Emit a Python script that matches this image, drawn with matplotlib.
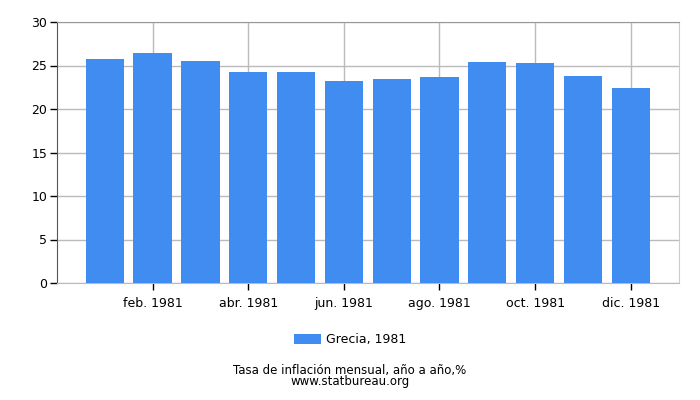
import matplotlib
matplotlib.use("Agg")
import matplotlib.pyplot as plt

months = ["ene. 1981", "feb. 1981", "mar. 1981", "abr. 1981", "may. 1981", "jun. 1981",
          "jul. 1981", "ago. 1981", "sep. 1981", "oct. 1981", "nov. 1981", "dic. 1981"]
values = [25.7, 26.4, 25.5, 24.3, 24.3, 23.2, 23.5, 23.7, 25.4, 25.3, 23.8, 22.4]
series_label = "Grecia, 1981"
yticks = [0, 5, 10, 15, 20, 25, 30]
caption = "Tasa de inflación mensual, año a año,%\nwww.statbureau.org"

fig = plt.figure(figsize=(7, 4), dpi=100)
ax = fig.add_axes([57/700, 1-283/400, (678.5-57)/700, (283-22)/400])

x = list(range(len(values)))
ax.bar(x, values, width=0.8, color="#418cf0", label=series_label, zorder=3)

ax.set_xlim(-1, 12)
ax.set_ylim(0, 30)
ax.set_yticks(yticks)
ax.set_xticks(x[1::2])
ax.set_xticklabels(months[1::2])
ax.tick_params(axis="both", labelsize=9, colors="#000000", length=5, width=1)
ax.tick_params(axis="x", pad=5)
ax.tick_params(axis="y", pad=2)
ax.grid(True, color="#bbbbbb", linewidth=1, zorder=0)
ax.spines["top"].set_color("#999999")
ax.spines["right"].set_color("#cccccc")
ax.spines["left"].set_color("#555555")
ax.spines["bottom"].set_color("#bbbbbb")

fig.legend(loc="center", bbox_to_anchor=(0.5, 1-340/400), frameon=False, fontsize=9,
           handlelength=2.2, handleheight=0.9, handletextpad=0.4)
fig.text(0.5, 1-376/400, caption, ha="center", va="center", fontsize=8.5,
         linespacing=0.85, multialignment="center")

fig.savefig("out.png", dpi=100)
